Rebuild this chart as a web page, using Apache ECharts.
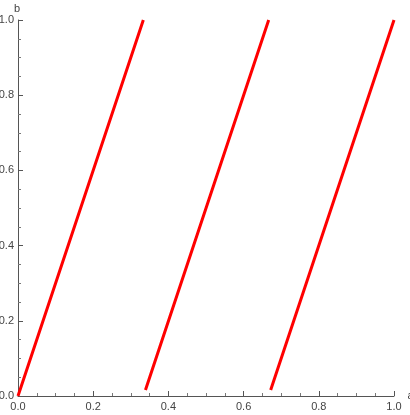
<!DOCTYPE html>
<html>
<head>
<meta charset="utf-8">
<script src="https://cdn.jsdelivr.net/npm/echarts@6/dist/echarts.min.js"></script>
<style>
    html, body { margin: 0; padding: 0; background: #fff; }
    #chart { width: 410px; height: 415px; }
</style>
</head>
<body>
<div id="chart"></div>
<script>
// b = frac(3a), three branches (Mathematica leaves a small gap at each jump)
var seg1 = [[0, 0], [0.3333, 1]];
var seg2 = [[0.339, 0.016], [0.6667, 1]];
var seg3 = [[0.672, 0.016], [1, 1]];
var tickStep = 0.2;

var chartDom = document.getElementById('chart');
var myChart = echarts.init(chartDom);

var lineData = seg1.concat([null], seg2, [null], seg3);

var axisCommon = {
    type: 'value',
    min: 0,
    max: 1,
    interval: tickStep,
    splitLine: { show: false },
    axisLine: { show: true, lineStyle: { color: '#555', width: 1 } },
    axisTick: { show: true, inside: true, length: 5, lineStyle: { color: '#555' } },
    minorTick: { show: true, splitNumber: 4, length: 3, lineStyle: { color: '#777' } },
    axisLabel: {
        color: '#444',
        fontSize: 11,
        fontFamily: 'Liberation Sans',
        formatter: function (v) { return v.toFixed(1); }
    },
    nameTextStyle: { color: '#444', fontSize: 11, fontFamily: 'Liberation Sans' }
};

var option = {
    animation: false,
    grid: { left: 18, right: 16, top: 20, bottom: 19, containLabel: false, outerBoundsMode: 'none' },
    xAxis: Object.assign({}, axisCommon, {
        name: 'a',
        nameGap: 5,
        nameTextStyle: Object.assign({}, axisCommon.nameTextStyle, { padding: [4, 0, 0, 0] }),
        axisLabel: Object.assign({}, axisCommon.axisLabel, { margin: 5 })
    }),
    yAxis: Object.assign({}, axisCommon, {
        name: 'b',
        nameGap: 6,
        nameTextStyle: Object.assign({}, axisCommon.nameTextStyle, { align: 'right', padding: [0, -2, 0, 0] }),
        axisLabel: Object.assign({}, axisCommon.axisLabel, { margin: 4 })
    }),
    series: [
        {
            type: 'line',
            data: lineData,
            showSymbol: false,
            connectNulls: false,
            lineStyle: { color: '#ff0000', width: 3 }
        }
    ]
};
option && myChart.setOption(option);
</script>
</body>
</html>
